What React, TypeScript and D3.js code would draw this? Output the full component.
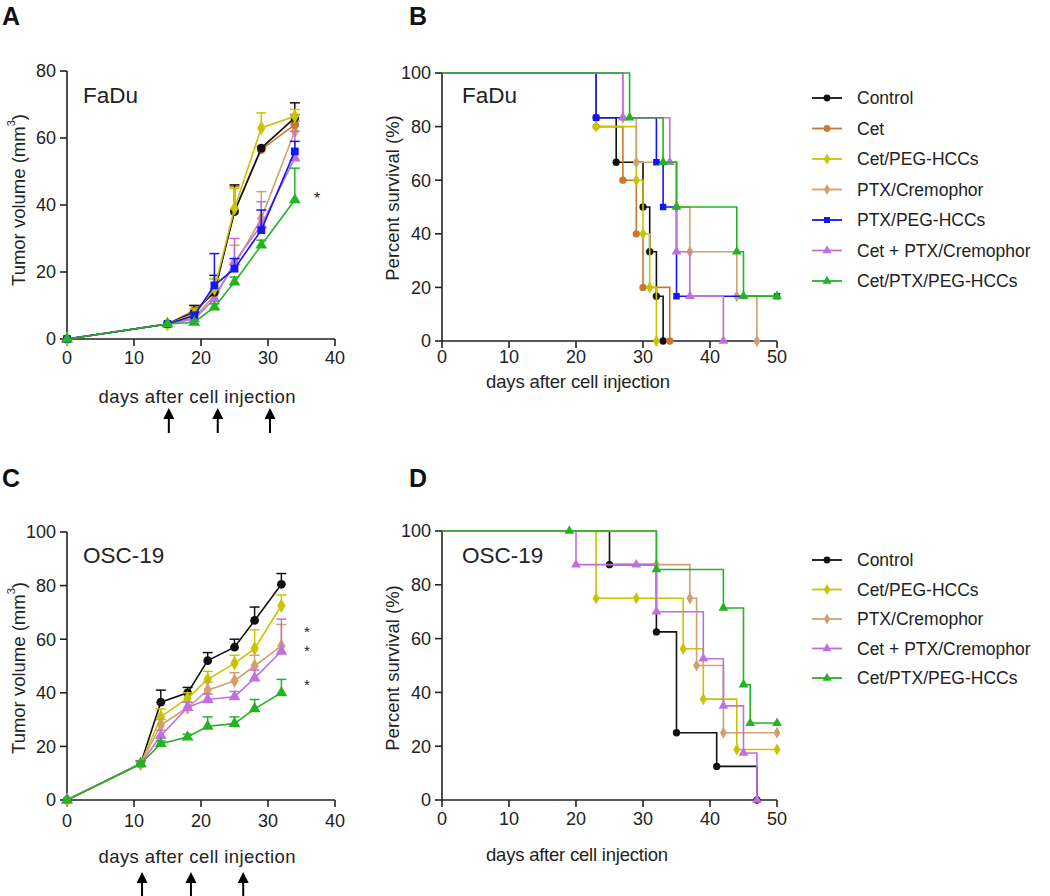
import React from "react";
import * as d3 from "d3";

// ---------- series meta ----------
const seriesNames = [
  "Control",
  "Cet",
  "Cet/PEG-HCCs",
  "PTX/Cremophor",
  "PTX/PEG-HCCs",
  "Cet + PTX/Cremophor",
  "Cet/PTX/PEG-HCCs",
];
const seriesColors = ["#111111", "#c8782c", "#c9c400", "#d2a070", "#1414ff", "#bf6fe0", "#22b422"];
const seriesShapes = ["circle", "circle", "diamond", "diamond", "square", "triangle", "triangle"];

// ---------- Panel A: FaDu tumor volume ----------
const daysA = [0, 15, 19, 22, 25, 29, 34];
const volA = [
  [0, 4.5, 8, 14, 38, 57, 66],        // Control
  [0, 4.5, 8.5, 14, 38.5, 56.5, 64],  // Cet
  [0, 4.5, 7.5, 15, 39, 63, 66.5],    // Cet/PEG-HCCs
  [0, 4.5, 6.5, 13, 22, 36, 62],      // PTX/Cremophor
  [0, 4.5, 7, 16, 21, 32.5, 56],      // PTX/PEG-HCCs
  [0, 4.5, 6, 12, 23, 34, 54],        // Cet + PTX/Cremophor
  [0, 4.5, 5, 9.5, 17, 28, 41.5],     // Cet/PTX/PEG-HCCs
];
const errA = [
  [0, 0.5, 2, 5, 8, 0.5, 4.5],
  [0, 0.5, 1.5, 4, 7, 1, 3],
  [0, 0.5, 1.5, 3, 6, 4.5, 2],
  [0, 0.5, 1, 2, 6, 8, 3],
  [0, 0.5, 1, 9.5, 3, 6, 3],
  [0, 0.5, 1, 2, 7, 7, 8],
  [0, 0.5, 0.5, 1, 1.5, 1.5, 9.5],
];
const seriesA = [3, 5, 1, 0, 2, 4, 6];
const injectionsA = [15.2, 22.5, 30.3];
const yTicksA = [0, 20, 40, 60, 80];
const xTicksGrowth = [0, 10, 20, 30, 40];

// ---------- Panel C: OSC-19 tumor volume ----------
const daysC = [0, 11, 14, 18, 21, 25, 28, 32];
const volC = [
  [0, 13.5, 36.5, 40, 52, 57, 67, 80.5],   // Control
  [0, 13.5, 31, 38, 45, 51, 56.5, 72.5],   // Cet/PEG-HCCs
  [0, 13.5, 28, 34.5, 41, 44.5, 50, 57.5], // PTX/Cremophor
  [0, 13.5, 24, 34.5, 37.5, 38.5, 45.5, 55.5], // Cet + PTX/Cremophor
  [0, 13.5, 21, 23.5, 27.5, 28.5, 34, 40], // Cet/PTX/PEG-HCCs
];
const errC = [
  [0, 1, 4.5, 2, 3, 3, 5, 4],
  [0, 1, 3, 2, 3, 3, 7, 4],
  [0, 1, 2, 2, 3, 3, 4, 8],
  [0, 1, 2, 2, 2, 2, 3, 12],
  [0, 1, 1, 1, 3.5, 2.5, 3.5, 5],
];
const seriesC = [0, 2, 3, 5, 6];
const injectionsC = [11.2, 18.5, 26.3];
const yTicksC = [0, 20, 40, 60, 80, 100];

// ---------- Panel B: FaDu survival ----------
const survTimesB = [
  [0, 23, 26, 30, 31, 32, 33],
  [0, 23, 27, 29, 30, 34],
  [0, 23, 29, 30, 31, 32],
  [0, 27, 29, 35, 37, 44, 47],
  [0, 23, 32, 33, 35, 50],
  [0, 27, 34, 35, 37, 42],
  [0, 28, 33, 35, 44, 45, 50],
];
const survPctB = [
  [100, 83.3, 66.7, 50, 33.3, 16.7, 0],
  [100, 80, 60, 40, 20, 0],
  [100, 80, 60, 40, 20, 0],
  [100, 83.3, 66.7, 50, 33.3, 16.7, 0],
  [100, 83.3, 66.7, 50, 16.7, 16.7],
  [100, 83.3, 66.7, 33.3, 16.7, 0],
  [100, 83.3, 66.7, 50, 33.3, 16.7, 16.7],
];
const seriesB = [0, 1, 2, 3, 4, 5, 6];

// ---------- Panel D: OSC-19 survival ----------
const survTimesD = [
  [0, 25, 32, 35, 41, 47],
  [0, 23, 29, 36, 39, 44, 50],
  [0, 32, 37, 38, 42, 50],
  [0, 20, 29, 32, 39, 42, 45, 47],
  [0, 19, 32, 42, 45, 46, 50],
];
const survPctD = [
  [100, 87.5, 62.5, 25, 12.5, 0],
  [100, 75, 75, 56.25, 37.5, 18.75, 18.75],
  [100, 87.5, 75, 50, 25, 25],
  [100, 87.5, 87.5, 70, 52.5, 35, 17.5, 0],
  [100, 100, 85.7, 71.4, 42.9, 28.6, 28.6],
];
const seriesD = [0, 2, 3, 5, 6];
const xTicksSurv = [0, 10, 20, 30, 40, 50];
const yTicksSurv = [0, 20, 40, 60, 80, 100];

const FONT = "'Liberation Sans', Arial, Helvetica, sans-serif";

function symbolPath(shape: string, size: number) {
  const t =
    shape === "circle" ? d3.symbolCircle :
    shape === "square" ? d3.symbolSquare :
    shape === "diamond" ? d3.symbolDiamond : d3.symbolTriangle;
  return d3.symbol(t, size)() as string;
}

function Axes({ x, y, xTicks, yTicks, labelOffset }: any) {
  const [x0, x1] = x.range();
  const [y0, y1] = y.range();
  return (
    <g fontFamily={FONT} fill="#222">
      <line x1={x0} x2={x0} y1={y0} y2={y1} stroke="#222" strokeWidth={1.6} />
      <line x1={x0} x2={x1} y1={y0} y2={y0} stroke="#222" strokeWidth={1.6} />
      {yTicks.map((t: number) => (
        <g key={"y" + t}>
          <line x1={x0 - 7} x2={x0} y1={y(t)} y2={y(t)} stroke="#222" strokeWidth={1.6} />
          <text x={x0 - 11} y={y(t)} dy="0.36em" textAnchor="end" fontSize={18}>{t}</text>
        </g>
      ))}
      {xTicks.map((t: number) => (
        <g key={"x" + t}>
          <line x1={x(t)} x2={x(t)} y1={y0} y2={y0 + 7} stroke="#222" strokeWidth={1.6} />
          <text x={x(t)} y={y0 + labelOffset} textAnchor="middle" fontSize={18}>{t}</text>
        </g>
      ))}
    </g>
  );
}

function GrowthSeries({ x, y, days, vals, errs, idx }: any) {
  const color = seriesColors[idx];
  const line = d3.line<number>().x((_, i) => x(days[i])).y((v) => y(v));
  return (
    <g>
      {vals.map((v: number, i: number) =>
        errs[i] > 0.6 ? (
          <g key={"e" + i} stroke={color} strokeWidth={1.5}>
            <line x1={x(days[i])} x2={x(days[i])} y1={y(v)} y2={y(v + errs[i])} />
            <line x1={x(days[i]) - 5} x2={x(days[i]) + 5} y1={y(v + errs[i])} y2={y(v + errs[i])} />
          </g>
        ) : null
      )}
      <path d={line(vals) as string} fill="none" stroke={color} strokeWidth={1.6} />
      {vals.map((v: number, i: number) => (
        <path key={"m" + i} d={symbolPath(seriesShapes[idx], 60)} transform={`translate(${x(days[i])},${y(v)})`} fill={color} />
      ))}
    </g>
  );
}

function SurvSeries({ x, y, times, pcts, idx }: any) {
  const color = seriesColors[idx];
  const pts = times.map((t: number, i: number) => [t, pcts[i]] as [number, number]);
  const line = d3.line<[number, number]>().x((d) => x(d[0])).y((d) => y(d[1])).curve(d3.curveStepAfter);
  return (
    <g>
      <path d={line(pts) as string} fill="none" stroke={color} strokeWidth={1.6} />
      {pts.slice(1).map((d: [number, number], i: number) => (
        <path key={i} d={symbolPath(seriesShapes[idx], 42)} transform={`translate(${x(d[0])},${y(d[1])})`} fill={color} />
      ))}
    </g>
  );
}

function Arrows({ x, days, yTop, yBot }: any) {
  return (
    <g>
      {days.map((d: number, i: number) => (
        <g key={i}>
          <line x1={x(d)} x2={x(d)} y1={yTop + 8} y2={yBot} stroke="#000" strokeWidth={2} />
          <path d={`M${x(d)},${yTop} L${x(d) - 5.5},${yTop + 11} L${x(d) + 5.5},${yTop + 11} Z`} fill="#000" />
        </g>
      ))}
    </g>
  );
}

function Legend({ items, x, y0, dy }: any) {
  return (
    <g fontFamily={FONT}>
      {items.map((idx: number, i: number) => {
        const yy = y0 + i * dy;
        return (
          <g key={idx}>
            <line x1={x} x2={x + 30} y1={yy} y2={yy} stroke={seriesColors[idx]} strokeWidth={1.8} />
            <path d={symbolPath(seriesShapes[idx], 36)} transform={`translate(${x + 15},${yy})`} fill={seriesColors[idx]} />
            <text x={x + 45} y={yy} dy="0.36em" fontSize={17.5} fill="#222">{seriesNames[idx]}</text>
          </g>
        );
      })}
    </g>
  );
}

export default function App() {
  const xA = d3.scaleLinear().domain([0, 40]).range([67, 335]);
  const yA = d3.scaleLinear().domain([0, 80]).range([339, 71]);
  const xB = d3.scaleLinear().domain([0, 50]).range([442, 777]);
  const yB = d3.scaleLinear().domain([0, 100]).range([341, 73]);
  const xC = d3.scaleLinear().domain([0, 40]).range([67, 335]);
  const yC = d3.scaleLinear().domain([0, 100]).range([800, 532]);
  const xD = d3.scaleLinear().domain([0, 50]).range([442, 777]);
  const yD = d3.scaleLinear().domain([0, 100]).range([800, 531]);

  return (
    <svg width={1050} height={896} style={{ position: "absolute", left: 0, top: 0, background: "#fff" }}>
      <rect width={1050} height={896} fill="#fff" />
      {/* panel letters */}
      <g fontFamily={FONT} fontWeight="bold" fontSize={25} fill="#111">
        <text x={2} y={25}>A</text>
        <text x={409} y={25}>B</text>
        <text x={2} y={487}>C</text>
        <text x={409} y={487}>D</text>
      </g>

      {/* Panel A */}
      <Axes x={xA} y={yA} xTicks={xTicksGrowth} yTicks={yTicksA} labelOffset={25} />
      {seriesA.map((idx) => (
        <GrowthSeries key={idx} x={xA} y={yA} days={daysA} vals={volA[idx]} errs={errA[idx]} idx={idx} />
      ))}
      <g fontFamily={FONT} fill="#222">
        <text x={83} y={103} fontSize={22.5}>FaDu</text>
        <text x={317} y={204} fontSize={16} textAnchor="middle">*</text>
        <text transform="translate(18,200) rotate(-90)" textAnchor="middle" dominantBaseline="central" fontSize={18.5}>
          Tumor volume (mm<tspan fontSize={11} dy="-7">3</tspan><tspan dy="7">)</tspan>
        </text>
        <text x={197} y={403} textAnchor="middle" fontSize={18.5} textLength={197}>days after cell injection</text>
      </g>
      <Arrows x={xA} days={injectionsA} yTop={408} yBot={433} />

      {/* Panel B */}
      <Axes x={xB} y={yB} xTicks={xTicksSurv} yTicks={yTicksSurv} labelOffset={22} />
      {seriesB.map((idx) => (
        <SurvSeries key={idx} x={xB} y={yB} times={survTimesB[idx]} pcts={survPctB[idx]} idx={idx} />
      ))}
      <g fontFamily={FONT} fill="#222">
        <text x={462} y={103} fontSize={22.5}>FaDu</text>
        <text transform="translate(392,198) rotate(-90)" textAnchor="middle" dominantBaseline="central" fontSize={18.5}>Percent survival (%)</text>
        <text x={578} y={388} textAnchor="middle" fontSize={18.5} textLength={184}>days after cell injection</text>
      </g>
      <Legend items={seriesB} x={812} y0={98} dy={30.5} />

      {/* Panel C */}
      <Axes x={xC} y={yC} xTicks={xTicksGrowth} yTicks={yTicksC} labelOffset={27} />
      {seriesC.map((idx, k) => (
        <GrowthSeries key={idx} x={xC} y={yC} days={daysC} vals={volC[k]} errs={errC[k]} idx={idx} />
      ))}
      <g fontFamily={FONT} fill="#222" fontSize={15} textAnchor="middle">
        <text x={307} y={637}>*</text>
        <text x={307} y={656}>*</text>
        <text x={307} y={690}>*</text>
      </g>
      <g fontFamily={FONT} fill="#222">
        <text x={83} y={563} fontSize={22.5}>OSC-19</text>
        <text transform="translate(18,668) rotate(-90)" textAnchor="middle" dominantBaseline="central" fontSize={18.5}>
          Tumor volume (mm<tspan fontSize={11} dy="-7">3</tspan><tspan dy="7">)</tspan>
        </text>
        <text x={197} y={863} textAnchor="middle" fontSize={18.5} textLength={197}>days after cell injection</text>
      </g>
      <Arrows x={xC} days={injectionsC} yTop={872} yBot={900} />

      {/* Panel D */}
      <Axes x={xD} y={yD} xTicks={xTicksSurv} yTicks={yTicksSurv} labelOffset={25} />
      {seriesD.map((idx, k) => (
        <SurvSeries key={idx} x={xD} y={yD} times={survTimesD[k]} pcts={survPctD[k]} idx={idx} />
      ))}
      <g fontFamily={FONT} fill="#222">
        <text x={462} y={563} fontSize={22.5}>OSC-19</text>
        <text transform="translate(392,668) rotate(-90)" textAnchor="middle" dominantBaseline="central" fontSize={18.5}>Percent survival (%)</text>
        <text x={577} y={861} textAnchor="middle" fontSize={18.5} textLength={182}>days after cell injection</text>
      </g>
      <Legend items={seriesD} x={812} y0={560} dy={29.5} />
    </svg>
  );
}
